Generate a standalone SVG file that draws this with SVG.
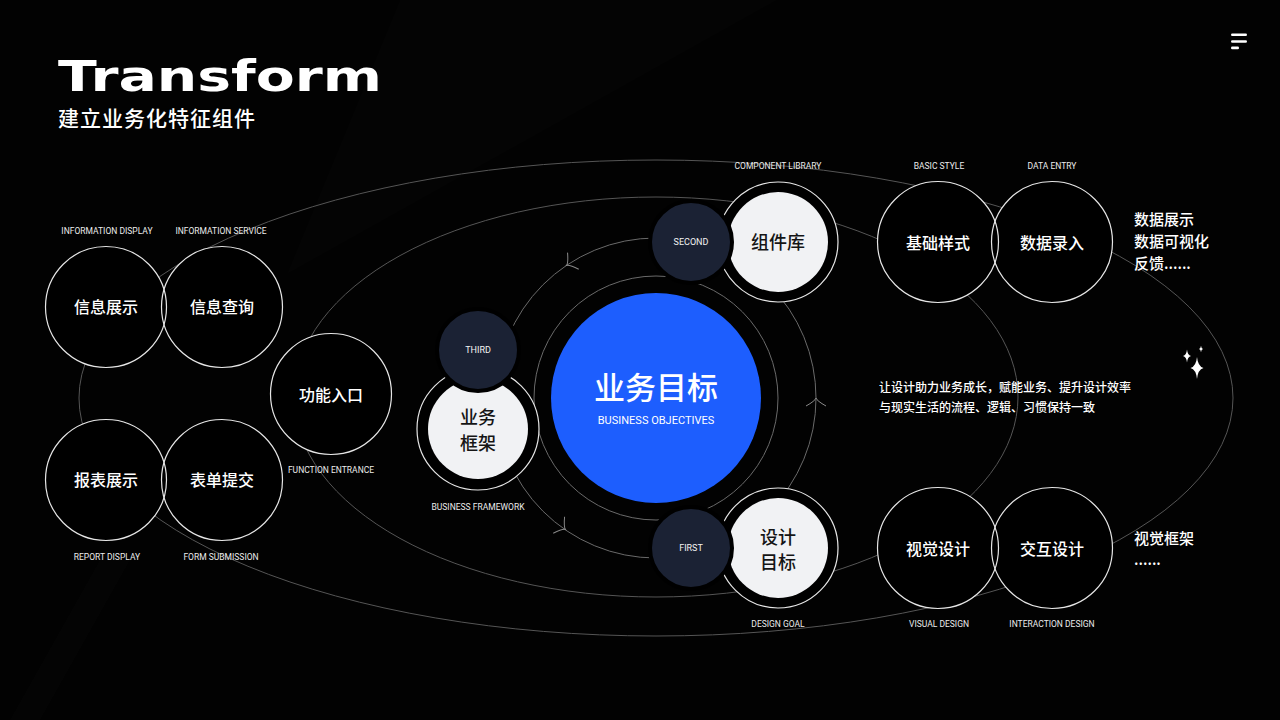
<svg xmlns="http://www.w3.org/2000/svg" xmlns:xlink="http://www.w3.org/1999/xlink" width="1280" height="720" viewBox="0 0 1280 720">
  <defs>
    <style>
      .orb { fill: none; stroke: #555; stroke-width: 1; }
      .orb2 { fill: none; stroke: #6a6a6a; stroke-width: 1; }
      .arr { fill: none; stroke: #8a8a8a; stroke-width: 1; }
      .bk { fill: #000; }
      .ol { fill: none; stroke: #e6e6e6; stroke-width: 1.2; }
      .ring { fill: #000; stroke: #e6e6e6; stroke-width: 1.2; }
      .wt { fill: #f1f2f4; }
      .nv { fill: #1b2234; stroke: #000; stroke-width: 4; }
      .lbl { font-family: Roboto, "Liberation Sans", sans-serif; font-size: 8.5px; fill: #ececec; text-anchor: middle; }
      .tag { font-family: Roboto, "Liberation Sans", sans-serif; font-size: 9px; fill: #f2f2f2; text-anchor: middle; }
      .cn { font-family: "Noto Sans CJK SC", sans-serif; font-weight: 500; font-size: 16px; fill: #fff; text-anchor: middle; }
      .cnd { font-family: "Noto Sans CJK SC", sans-serif; font-weight: 500; font-size: 18px; fill: #151515; text-anchor: middle; }
      .side { font-family: "Noto Sans CJK SC", sans-serif; font-weight: 500; font-size: 15px; fill: #fff; }
      .desc { font-family: "Noto Sans CJK SC", sans-serif; font-weight: 500; font-size: 12px; fill: #fff; }
    </style>
    <path id="spark" d="M0,-1 Q0.14,-0.14 1,0 Q0.14,0.14 0,1 Q-0.14,0.14 -1,0 Q-0.14,-0.14 0,-1Z" fill="#fff"/>
    <path id="ah" d="M-8,-10 Q-3,-1 0,0 Q-3,1 -8,10"/>
  </defs>

  <rect width="1280" height="720" fill="#020202"/>
  <g id="background" opacity="0.012" fill="#fff">
    <polygon points="400,0 777,0 287,274"/>
    <polygon points="100,560 130,560 40,720 10,720"/>
  </g>

  <g id="header">
    <text x="58" y="91" font-family="DejaVu Sans, sans-serif" font-weight="700" font-size="42" fill="#fff" textLength="324" lengthAdjust="spacingAndGlyphs">Transform</text>
    <text x="58" y="126" font-family="Noto Sans CJK SC, sans-serif" font-weight="500" font-size="21" letter-spacing="1" fill="#fff">建立业务化特征组件</text>
    <g id="menu-icon" fill="#fff">
      <rect x="1231" y="33.5" width="16" height="2.6" rx="1.3"/>
      <rect x="1231" y="40.2" width="16" height="2.6" rx="1.3"/>
      <rect x="1231" y="46.6" width="8" height="2.6" rx="1.3"/>
    </g>
  </g>

  <g id="connectors">
    <ellipse class="orb" cx="656" cy="398" rx="577" ry="238"/>
    <ellipse class="orb" cx="656" cy="397" rx="362" ry="200"/>
    <circle class="orb2" cx="656" cy="398" r="160"/>
    <circle class="orb2" cx="656" cy="398" r="122"/>
    <use href="#ah" class="arr" transform="translate(566.5,265.4) rotate(146)"/>
    <use href="#ah" class="arr" transform="translate(816,398) rotate(-90)"/>
    <use href="#ah" class="arr" transform="translate(565.5,529.5) rotate(34.6)"/>
  </g>

  <g id="backdrops">
    <circle class="bk" cx="106" cy="307" r="60.5"/>
    <circle class="bk" cx="222" cy="307" r="60.5"/>
    <circle class="bk" cx="106" cy="480" r="60.5"/>
    <circle class="bk" cx="222" cy="480" r="60.5"/>
    <circle class="bk" cx="331" cy="394" r="60.5"/>
    <circle class="bk" cx="938" cy="242" r="60.5"/>
    <circle class="bk" cx="1052" cy="242" r="60.5"/>
    <circle class="bk" cx="938" cy="548" r="60.5"/>
    <circle class="bk" cx="1052" cy="548" r="60.5"/>
  </g>

  <g id="node-info-display">
    <circle class="ol" cx="106" cy="307" r="60.5"/>
    <text class="cn" x="106" y="313">信息展示</text>
    <text class="lbl" x="107" y="234">INFORMATION DISPLAY</text>
  </g>
  <g id="node-info-service">
    <circle class="ol" cx="222" cy="307" r="60.5"/>
    <text class="cn" x="222" y="313">信息查询</text>
    <text class="lbl" x="221" y="234">INFORMATION SERVICE</text>
  </g>
  <g id="node-report-display">
    <circle class="ol" cx="106" cy="480" r="60.5"/>
    <text class="cn" x="106" y="486">报表展示</text>
    <text class="lbl" x="107" y="559.5">REPORT DISPLAY</text>
  </g>
  <g id="node-form-submission">
    <circle class="ol" cx="222" cy="480" r="60.5"/>
    <text class="cn" x="222" y="486">表单提交</text>
    <text class="lbl" x="221" y="559.5">FORM SUBMISSION</text>
  </g>
  <g id="node-function-entrance">
    <circle class="ol" cx="331" cy="394" r="60.5"/>
    <text class="cn" x="331" y="400.5">功能入口</text>
    <text class="lbl" x="331" y="473">FUNCTION ENTRANCE</text>
  </g>

  <g id="node-business-objectives">
    <circle cx="656" cy="398" r="105" fill="#1d5efe"/>
    <text x="656" y="398.5" font-family="Noto Sans CJK SC, sans-serif" font-weight="500" font-size="31" fill="#fff" text-anchor="middle">业务目标</text>
    <text x="656" y="424" font-family="Roboto, Liberation Sans, sans-serif" font-size="11" fill="#fff" text-anchor="middle">BUSINESS OBJECTIVES</text>
  </g>

  <g id="node-business-framework">
    <circle class="ring" cx="478" cy="429" r="61"/>
    <circle class="wt" cx="478" cy="429" r="50"/>
    <text class="cnd" x="478" y="424">业务</text>
    <text class="cnd" x="478" y="450">框架</text>
    <text class="lbl" x="478" y="509.5">BUSINESS FRAMEWORK</text>
    <circle class="nv" cx="478" cy="350" r="41"/>
    <text class="tag" x="478" y="353.2">THIRD</text>
  </g>

  <g id="node-component-library">
    <circle class="ring" cx="778" cy="242" r="60"/>
    <circle class="wt" cx="778" cy="242" r="50"/>
    <text class="cnd" x="778" y="249">组件库</text>
    <text class="lbl" x="778" y="169">COMPONENT LIBRARY</text>
    <circle class="nv" cx="691" cy="242" r="41"/>
    <text class="tag" x="691" y="245.2">SECOND</text>
  </g>

  <g id="node-design-goal">
    <circle class="ring" cx="778" cy="548" r="60"/>
    <circle class="wt" cx="778" cy="548" r="50"/>
    <text class="cnd" x="778" y="543.5">设计</text>
    <text class="cnd" x="778" y="568.5">目标</text>
    <text class="lbl" x="778" y="627.2">DESIGN GOAL</text>
    <circle class="nv" cx="691" cy="548" r="41"/>
    <text class="tag" x="691" y="551.2">FIRST</text>
  </g>

  <g id="node-basic-style">
    <circle class="ol" cx="938" cy="242" r="60.5"/>
    <text class="cn" x="938" y="248.5">基础样式</text>
    <text class="lbl" x="939" y="169">BASIC STYLE</text>
  </g>
  <g id="node-data-entry">
    <circle class="ol" cx="1052" cy="242" r="60.5"/>
    <text class="cn" x="1052" y="248.5">数据录入</text>
    <text class="lbl" x="1052" y="169">DATA ENTRY</text>
  </g>
  <g id="node-visual-design">
    <circle class="ol" cx="938" cy="548" r="60.5"/>
    <text class="cn" x="938" y="554.5">视觉设计</text>
    <text class="lbl" x="939" y="627.2">VISUAL DESIGN</text>
  </g>
  <g id="node-interaction-design">
    <circle class="ol" cx="1052" cy="548" r="60.5"/>
    <text class="cn" x="1052" y="554.5">交互设计</text>
    <text class="lbl" x="1052" y="627.2">INTERACTION DESIGN</text>
  </g>

  <g id="notes">
    <text class="side" x="1134" y="225"><tspan x="1134">数据展示</tspan><tspan x="1134" dy="21.9">数据可视化</tspan><tspan x="1134" dy="21.9">反馈......</tspan></text>
    <text class="side" x="1134" y="543.5"><tspan x="1134">视觉框架</tspan><tspan x="1134" dy="21.9">......</tspan></text>
    <text class="desc" x="879" y="392.3"><tspan x="879">让设计助力业务成长，赋能业务、提升设计效率</tspan><tspan x="879" dy="20">与现实生活的流程、逻辑、习惯保持一致</tspan></text>
  </g>

  <g id="sparkles">
    <use href="#spark" transform="translate(1197,368) scale(6.5,11)"/>
    <use href="#spark" transform="translate(1187,356) scale(4,6.5)"/>
    <use href="#spark" transform="translate(1201,349) scale(2,3.2)"/>
  </g>
</svg>
